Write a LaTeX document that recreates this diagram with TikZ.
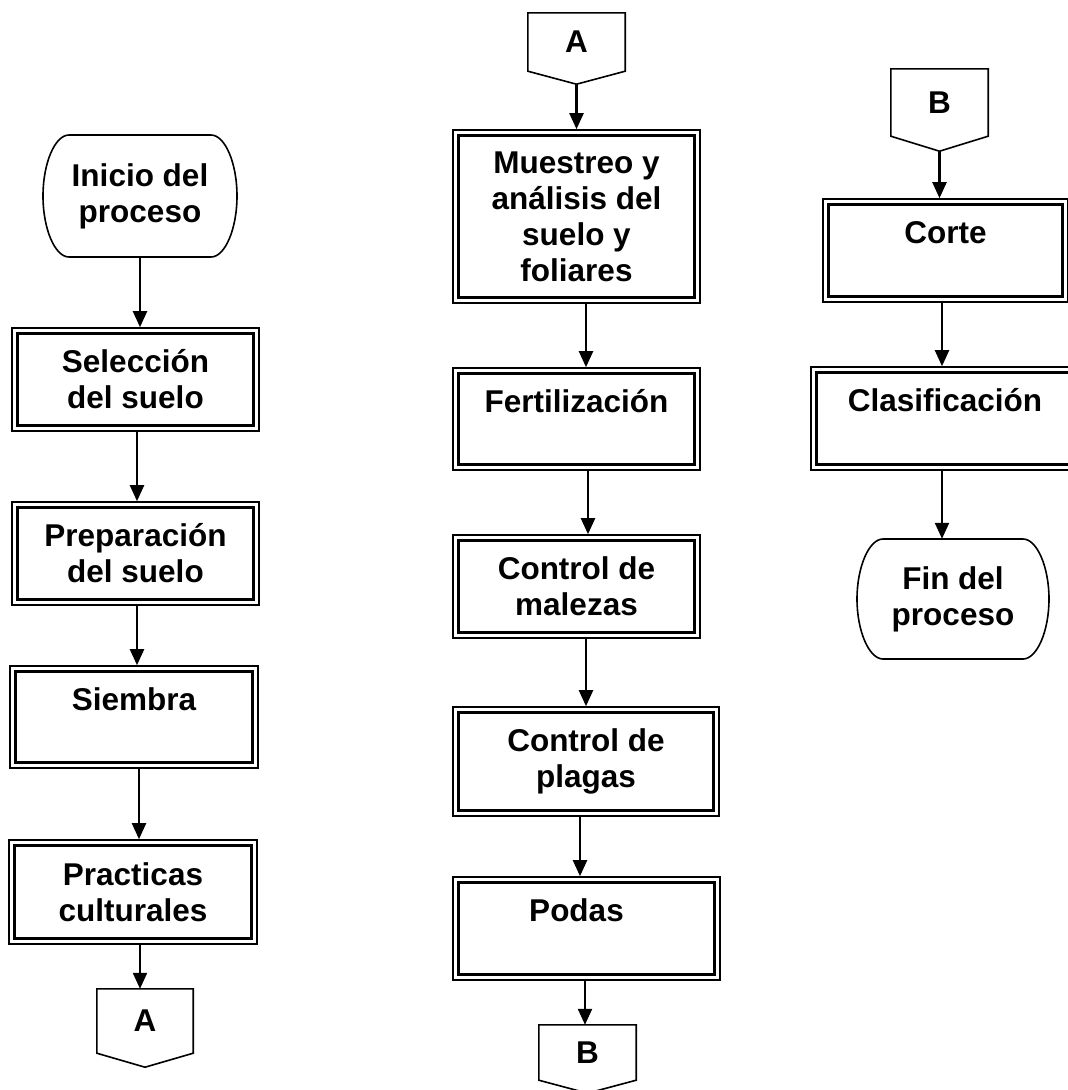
\documentclass[tikz,border=0pt]{standalone}
\usepackage{fontspec}
\setmainfont{Liberation Sans}
\usetikzlibrary{calc,arrows.meta}
\tikzset{
  lbl/.style={font=\fontsize{31.5}{36}\selectfont\bfseries, align=center, inner sep=0pt},
  dbox/.style={lbl, draw, line width=1.6pt, rectangle,
    path picture={\draw[line width=3.2pt]
      ([shift={(5.5pt,5.5pt)}]path picture bounding box.south west) rectangle
      ([shift={(-5.5pt,-5.5pt)}]path picture bounding box.north east);}},
  term/.style={lbl, rectangle},
  conn/.style={lbl, rectangle},
  shapeline/.style={line width=1.6pt, line join=miter},
  arr/.style={line width=2.2pt, -{Triangle[length=16pt,width=14pt]}}
}
\newcommand{\drawterm}[3]{%
  \draw[shapeline] ($(#1)+(-#2+26,-#3)$) -- ($(#1)+(#2-26,-#3)$)
    .. controls ($(#1)+(#2-12,-#3)$) and ($(#1)+(#2,-#3+28)$) .. ($(#1)+(#2,0)$)
    .. controls ($(#1)+(#2,#3-28)$) and ($(#1)+(#2-12,#3)$) .. ($(#1)+(#2-26,#3)$)
    -- ($(#1)+(-#2+26,#3)$)
    .. controls ($(#1)+(-#2+12,#3)$) and ($(#1)+(-#2,#3-28)$) .. ($(#1)+(-#2,0)$)
    .. controls ($(#1)+(-#2,-#3+28)$) and ($(#1)+(-#2+12,-#3)$) .. cycle;}
\newcommand{\drawconn}[2]{%
  \draw[shapeline] (#1.south west) -- (#1.north west) -- (#1.north east)
    -- (#1.south east) -- ($(#1.south)+(0,#2)$) -- cycle;}
\begin{document}
\begin{tikzpicture}[x=1pt,y=-1pt]
\useasboundingbox (0,0) rectangle (1068,1090);

% Column 1
\node[term, minimum width=194pt, minimum height=122pt] (ini) at (140,196) {Inicio del\\proceso};
\drawterm{ini}{97}{61}
\node[dbox, minimum width=247pt, minimum height=103pt] (sel) at (135.5,379.5) {Selección\\del suelo};
\node[dbox, minimum width=247pt, minimum height=103pt] (prep) at (135.5,553.5) {Preparación\\del suelo};
\node[dbox, minimum width=248pt, minimum height=102pt] (siem) at (134,717) {Siembra\\\phantom{S}};
\node[dbox, minimum width=248pt, minimum height=104pt] (prac) at (133,892) {Practicas\\culturales};
\node[conn, minimum width=96pt, minimum height=64pt] (a1) at (145,1021) {A};
\drawconn{a1}{14}

\draw[arr] (ini.south) -- (ini.south |- sel.north);
\draw[arr] ([xshift=1.5pt]sel.south) -- ([xshift=1.5pt]sel.south |- prep.north);
\draw[arr] ([xshift=1.5pt]prep.south) -- ([xshift=1.5pt]prep.south |- siem.north);
\draw[arr] ([xshift=5pt]siem.south) -- ([xshift=5pt]siem.south |- prac.north);
\draw[arr] ([xshift=7pt]prac.south) -- ([xshift=7pt]prac.south |- a1.north);

% Column 2
\node[conn, minimum width=97pt, minimum height=58pt] (a2) at (576.5,42) {A};
\drawconn{a2}{13}
\node[dbox, minimum width=247pt, minimum height=173pt] (mue) at (576.5,216.5) {Muestreo y\\análisis del\\suelo y\\foliares};
\node[dbox, minimum width=247pt, minimum height=102pt] (fert) at (576.5,419) {Fertilización\\\phantom{S}};
\node[dbox, minimum width=247pt, minimum height=103pt] (mal) at (576.5,586.5) {Control de\\malezas};
\node[dbox, minimum width=266pt, minimum height=109pt] (plag) at (586,761.5) {Control de\\plagas};
\node[dbox, minimum width=267pt, minimum height=103pt] (podas) at (586.5,928.5) {Podas\hspace*{20pt}\\\phantom{S}};
\node[conn, minimum width=97pt, minimum height=55pt] (b1) at (587.5,1052.5) {B};
\drawconn{b1}{13}

\draw[arr] ($(a2.south)+(0,13)$) -- (a2.south |- mue.north);
\draw[arr] ([xshift=9.5pt]mue.south) -- ([xshift=9.5pt]mue.south |- fert.north);
\draw[arr] ([xshift=11.5pt]fert.south) -- ([xshift=11.5pt]fert.south |- mal.north);
\draw[arr] ([xshift=9.5pt]mal.south) -- ([xshift=9.5pt]mal.south |- plag.north);
\draw[arr] ([xshift=-6pt]plag.south) -- ([xshift=-6pt]plag.south |- podas.north);
\draw[arr] ([xshift=-1.5pt]podas.south) -- ([xshift=-1.5pt]podas.south |- b1.north);

% Column 3
\node[conn, minimum width=97pt, minimum height=67pt] (b2) at (939.5,102.5) {B};
\drawconn{b2}{15}
\node[dbox, minimum width=245pt, minimum height=103pt] (corte) at (945.5,250.5) {Corte\\\phantom{S}};
\node[dbox, minimum width=268pt, minimum height=103pt] (clas) at (945,418.5) {Clasificación\\\phantom{S}};
\node[term, minimum width=192pt, minimum height=120pt] (fin) at (953,599) {Fin del\\proceso};
\drawterm{fin}{96}{60}

\draw[arr] ($(b2.south)+(0,15)$) -- (b2.south |- corte.north);
\draw[arr] ([xshift=-3.5pt]corte.south) -- ([xshift=-3.5pt]corte.south |- clas.north);
\draw[arr] ([xshift=-3pt]clas.south) -- ([xshift=-3pt]clas.south |- fin.north);
\end{tikzpicture}
\end{document}
